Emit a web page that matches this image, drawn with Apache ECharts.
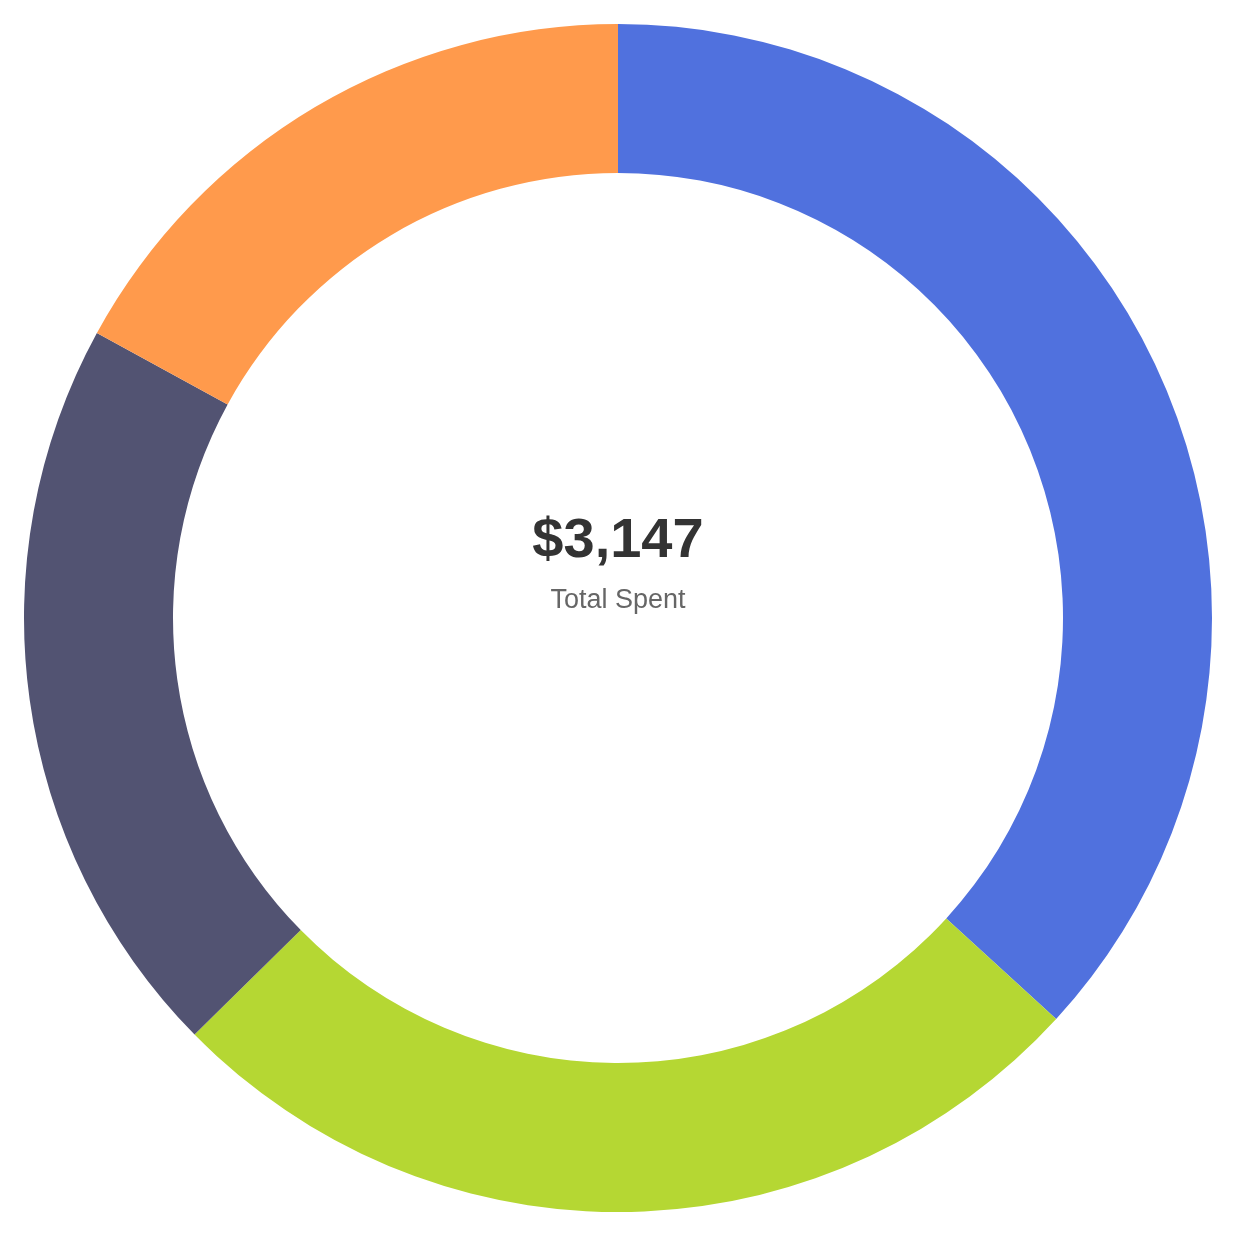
<!DOCTYPE html>
<html>
<head>
<meta charset="utf-8">
<script src="https://cdn.jsdelivr.net/npm/echarts@6/dist/echarts.min.js"></script>
<style>html,body{margin:0;padding:0;background:#fff}#c{width:1236px;height:1236px}</style>
</head>
<body>
<div id="c"></div>
<script>
const categories = ["Housing", "Food", "Transport", "Entertainment"];
const values = [1158, 813, 640, 536];
const colors = ["#5071DE", "#B5D733", "#525372", "#FF9A4C"];
const totalLabel = "Total Spent";

const total = values.reduce((a, b) => a + b, 0);
const chart = echarts.init(document.getElementById('c'));
chart.setOption({
  animation: false,
  graphic: [
    { type: 'text', left: 'center', top: 514, style: { text: '$' + total.toLocaleString('en-US'), fontSize: 56, fontWeight: 'bold', fill: '#333', fontFamily: 'Liberation Sans, Arial, sans-serif' } },
    { type: 'text', left: 'center', top: 587, style: { text: totalLabel, fontSize: 27, fill: '#666', fontFamily: 'Liberation Sans, Arial, sans-serif' } }
  ],
  series: [{
    type: 'pie',
    center: ['50%', '50%'],
    radius: [445, 594],
    startAngle: 90,
    clockwise: true,
    label: { show: false },
    labelLine: { show: false },
    emphasis: { disabled: true },
    data: categories.map((n, i) => ({ name: n, value: values[i], itemStyle: { color: colors[i] } }))
  }]
});
</script>
</body>
</html>
